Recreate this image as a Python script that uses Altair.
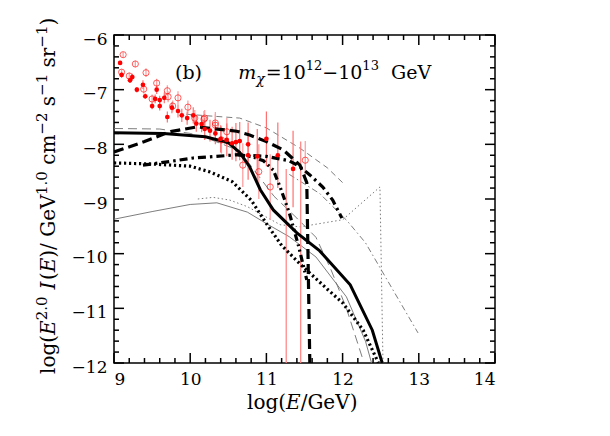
import altair as alt
import pandas as pd

# ---------------- curves (log E [GeV], log E^2 I) ----------------
solid_x = [9.0, 9.65, 10.2, 10.5, 10.65, 10.78, 10.92, 11.09, 11.4, 11.7, 12.1, 12.39, 12.52]
solid_y = [-7.79, -7.8, -7.86, -7.97, -8.15, -8.41, -8.83, -9.2, -9.62, -9.95, -10.57, -11.4, -12.0]

dashed_x = [9.0, 9.4, 9.73, 10.09, 10.61, 10.78, 11.0, 11.22, 11.44, 11.53, 11.57]
dashed_y = [-8.14, -7.95, -7.77, -7.68, -7.76, -7.83, -7.95, -8.1, -8.38, -8.7, -12.0]

dashdot_x = [9.38, 9.7, 10.04, 10.63, 11.0, 11.3, 11.44, 11.57, 11.74, 11.87, 11.99]
dashdot_y = [-8.38, -8.32, -8.25, -8.19, -8.22, -8.3, -8.41, -8.56, -8.78, -9.02, -9.35]

dashdot2_x = [10.63, 10.8, 10.96, 11.09, 11.18, 11.3, 11.42, 11.53]
dashdot2_y = [-8.19, -8.22, -8.3, -8.47, -8.78, -9.25, -9.85, -10.48]

dotted_x = [9.0, 9.5, 10.0, 10.25, 10.55, 10.8, 11.0, 11.2, 11.45, 11.8, 12.0, 12.27, 12.47]
dotted_y = [-8.34, -8.36, -8.4, -8.5, -8.68, -9.02, -9.45, -9.85, -10.2, -10.65, -10.9, -11.4, -12.0]

thin_solid_x = [9.0, 9.5, 10.0, 10.35, 10.75, 11.0, 11.3, 11.65, 12.05, 12.3, 12.38]
thin_solid_y = [-9.37, -9.23, -9.1, -9.07, -9.24, -9.45, -9.69, -10.06, -10.79, -11.6, -12.0]

thin_dot_x = [10.1, 10.3, 10.52, 10.75, 11.18, 11.44, 12.0, 12.49, 12.53]
thin_dot_y = [-9.0, -8.97, -9.02, -9.14, -9.47, -9.51, -9.38, -8.78, -12.0]

thin_ldash_x = [9.0, 9.6, 10.0, 10.3, 10.65, 10.8, 11.1, 11.4, 11.65, 11.85, 12.05, 12.27]
thin_ldash_y = [-7.71, -7.72, -7.8, -7.93, -8.12, -8.4, -8.95, -9.35, -9.7, -10.3, -11.0, -11.95]

thin_dash_x = [9.95, 10.65, 11.0, 11.44, 11.8, 12.0]
thin_dash_y = [-7.45, -7.52, -7.7, -8.07, -8.43, -8.7]

thin_dd_x = [11.3, 11.7, 12.06, 12.3, 12.99]
thin_dd_y = [-8.55, -8.9, -9.4, -9.8, -11.45]

# ---------------- data points ----------------
filled_x = [9.08, 9.10, 9.21, 9.24, 9.30, 9.38, 9.41, 9.50, 9.54, 9.56, 9.60, 9.60, 9.66, 9.70,
            9.76, 9.84, 9.89, 9.96, 10.04, 10.08, 10.15, 10.19, 10.26, 10.33, 10.40, 10.48,
            10.55, 10.60, 10.65, 10.76, 10.76, 10.88, 11.00, 11.15, 11.35]
filled_y = [-6.51, -6.73, -6.83, -6.77, -7.00, -6.91, -7.12, -7.30, -7.17, -7.00, -7.19, -7.30,
            -7.15, -7.50, -7.33, -7.39, -7.47, -7.52, -7.47, -7.62, -7.63, -7.72, -7.75, -7.80,
            -7.90, -7.92, -7.98, -7.96, -7.94, -8.00, -8.20, -8.22, -7.90, -8.20, -8.45]
filled_err = [0.04, 0.05, 0.05, 0.06, 0.05, 0.08, 0.05, 0.06, 0.08, 0.08, 0.08, 0.08, 0.1, 0.1,
              0.1, 0.12, 0.12, 0.12, 0.15, 0.15, 0.15, 0.2, 0.2, 0.2, 0.25, 0.3, 0.3, 0.35,
              0.35, 0.4, 0.45, 0.5, 0.5, 0.6, 0.7]

open_x = [9.10, 9.12, 9.20, 9.28, 9.39, 9.42, 9.50, 9.56, 9.70, 9.71, 9.77, 9.84, 9.97, 10.06,
          10.18, 10.19, 10.33, 10.33, 10.41, 10.48, 10.69, 10.90, 11.05, 11.51]
open_y = [-6.68, -6.36, -6.75, -6.53, -6.99, -6.69, -7.17, -6.88, -7.02, -7.13, -7.30, -7.15,
          -7.32, -7.52, -7.54, -7.52, -7.65, -7.61, -7.92, -7.77, -8.38, -8.5, -8.78, -8.29]
open_err = [0.05, 0.05, 0.06, 0.06, 0.08, 0.08, 0.08, 0.08, 0.1, 0.1, 0.1, 0.12, 0.12, 0.15,
            0.15, 0.15, 0.2, 0.2, 0.25, 0.25, 0.4, 0.5, 0.6, 0.35]

# long error bars reaching the bottom of the plot
long_x = [11.26, 11.45]
long_top = [-8.45, -7.95]

x_major = [9, 10, 11, 12, 13, 14]
y_major = [-12, -11, -10, -9, -8, -7, -6]

XDOM = [9, 14]
YDOM = [-12, -6]
W, H = 381, 328
FONT = "DejaVu Serif"

# approximate DejaVu Serif advance widths (em) used to lay out rich-text labels
CW = {"l": 0.32, "o": 0.602, "g": 0.64, "(": 0.39, ")": 0.39, "E": 0.73, " ": 0.318, "I": 0.47,
      "/": 0.337, "G": 0.775, "e": 0.592, "V": 0.722, "c": 0.56, "m": 0.948, "s": 0.513,
      "r": 0.478, ".": 0.318, "−": 0.838, "=": 0.838, "b": 0.64, "χ": 0.6}


def tw(s, fs):
    return sum(CW.get(ch, 0.636) for ch in s) * fs


def X(field="x"):
    return alt.X(f"{field}:Q", scale=alt.Scale(domain=XDOM, nice=False, zero=False),
                 axis=alt.Axis(values=x_major, format="d", ticks=False, domain=False, grid=False,
                               labelFont=FONT, labelFontSize=17, labelColor="black", labelPadding=8,
                               title=None))


def Y(field="y"):
    return alt.Y(f"{field}:Q", scale=alt.Scale(domain=YDOM, nice=False, zero=False),
                 axis=alt.Axis(values=y_major, format="d", ticks=False, domain=False, grid=False,
                               labelFont=FONT, labelFontSize=17, labelColor="black", labelPadding=7,
                               labelOffset=4, title=None))


def line(xs, ys, color, width, dash=None):
    df = pd.DataFrame({"x": xs, "y": ys, "o": range(len(xs))})
    kw = dict(color=color, strokeWidth=width, clip=True, strokeCap="butt", strokeJoin="miter")
    if dash:
        kw["strokeDash"] = dash
    return alt.Chart(df).mark_line(**kw).encode(x=X(), y=Y(), order="o:Q")


GRAY = "#6e6e6e"
layers = []

# thin lines
layers.append(line(thin_solid_x, thin_solid_y, GRAY, 0.9))
layers.append(line(thin_dot_x, thin_dot_y, GRAY, 0.9, [1.5, 2.5]))
layers.append(line(thin_ldash_x, thin_ldash_y, GRAY, 0.9, [9, 5]))
layers.append(line(thin_dash_x, thin_dash_y, GRAY, 0.9, [6, 4]))
layers.append(line(thin_dd_x, thin_dd_y, GRAY, 0.9, [6, 3, 1.5, 3]))

# error bars
fdf = pd.DataFrame({"x": filled_x, "y": filled_y, "e": filled_err})
fdf["lo"] = fdf["y"] - fdf["e"]
fdf["hi"] = fdf["y"] + fdf["e"]
odf = pd.DataFrame({"x": open_x, "y": open_y, "e": open_err})
odf["lo"] = odf["y"] - odf["e"]
odf["hi"] = odf["y"] + odf["e"]
ldf = pd.DataFrame({"x": long_x, "hi": long_top, "lo": [YDOM[0]] * len(long_x)})

layers.append(alt.Chart(odf).mark_rule(color="#ffa0a0", strokeWidth=1.3, clip=True)
              .encode(x=X(), y=Y("lo"), y2="hi:Q"))
layers.append(alt.Chart(fdf).mark_rule(color="#ff7070", strokeWidth=1.2, clip=True)
              .encode(x=X(), y=Y("lo"), y2="hi:Q"))
layers.append(alt.Chart(ldf).mark_rule(color="#ff8080", strokeWidth=1.2, clip=True)
              .encode(x=X(), y=Y("lo"), y2="hi:Q"))

# thick lines
layers.append(line(dotted_x, dotted_y, "black", 3.2, [2.2, 2.8]))
layers.append(line(dashdot2_x, dashdot2_y, "black", 3.2, [7, 3.5, 2, 3.5, 2, 3.5]))
layers.append(line(dashdot_x, dashdot_y, "black", 3.2, [8, 4, 2.5, 4]))
layers.append(line(dashed_x, dashed_y, "black", 3.2, [10, 5]))
layers.append(line(solid_x, solid_y, "black", 3.0))

# points
layers.append(alt.Chart(odf).mark_point(shape="circle", filled=False, color="red", size=38,
                                        strokeWidth=0.9, clip=True).encode(x=X(), y=Y()))
layers.append(alt.Chart(fdf).mark_point(shape="circle", filled=True, color="red", size=22,
                                        opacity=1, clip=True).encode(x=X(), y=Y()))

# inward ticks on all four sides
dxM, dxm = 10 / W * (XDOM[1] - XDOM[0]), 5 / W * (XDOM[1] - XDOM[0])
dyM, dym = 10 / H * (YDOM[1] - YDOM[0]), 5 / H * (YDOM[1] - YDOM[0])
rows = []
for i in range(int((XDOM[1] - XDOM[0]) / 0.2) + 1):
    v = round(XDOM[0] + 0.2 * i, 4)
    L = dyM if abs(v - round(v)) < 1e-6 else dym
    rows.append({"x": v, "x2": v, "y": YDOM[0], "y2": YDOM[0] + L})
    rows.append({"x": v, "x2": v, "y": YDOM[1], "y2": YDOM[1] - L})
for i in range(int((YDOM[1] - YDOM[0]) / 0.2) + 1):
    v = round(YDOM[0] + 0.2 * i, 4)
    L = dxM if abs(v - round(v)) < 1e-6 else dxm
    rows.append({"x": XDOM[0], "x2": XDOM[0] + L, "y": v, "y2": v})
    rows.append({"x": XDOM[1], "x2": XDOM[1] - L, "y": v, "y2": v})
tdf = pd.DataFrame(rows)
layers.append(alt.Chart(tdf).mark_rule(color="black", strokeWidth=1.5)
              .encode(x=X(), x2="x2:Q", y=Y(), y2="y2:Q"))

one = pd.DataFrame({"k": [0]})


def rich(pieces, x0, y0, angle=0):
    """pieces: (text, fontsize, baseline shift, style, extra gap after); laid out along the text.
    Leading/trailing spaces are turned into offsets (SVG collapses them)."""
    out, off = [], 0.0
    for txt, fs, shift, st, gap in pieces:
        core = txt.strip(" ")
        lead = len(txt) - len(txt.lstrip(" "))
        trail = len(txt) - len(txt.rstrip(" "))
        off += lead * CW[" "] * fs
        if core:
            kw = dict(text=core, dx=off, dy=shift, align="left", baseline="alphabetic", font=FONT,
                      fontSize=fs, fontStyle=st, color="black")
            if angle:
                kw["angle"] = angle
            out.append(alt.Chart(one).mark_text(**kw).encode(x=alt.value(x0), y=alt.value(y0)))
        off += tw(core, fs) + trail * CW[" "] * fs + gap
    return out


# panel label "(b) m_chi = 10^12 - 10^13 GeV"
ann = [("(b)", 19, 0, "normal", 0), ("   ", 19, 0, "normal", 0), ("m", 19, 0, "italic", 0),
       ("χ", 14, 5, "italic", 1), ("=10", 19, 0, "normal", 0), ("12", 13, -9, "normal", 0),
       ("−10", 19, 0, "normal", 0), ("13", 13, -9, "normal", 0), ("  GeV", 19, 0, "normal", 0)]
layers += rich(ann, 175 - 114, 79 - 35)

# x title "log(E/GeV)"
xt = [("log(", 20, 0, "normal", 0), ("E", 20, 0, "italic", 0), ("/GeV)", 20, 0, "normal", 0)]
layers += rich(xt, 247 - 114, 409 - 35)

# y title "log(E^2.0 I(E)/ GeV^1.0 cm^-2 s^-1 sr^-1)"
MS, SS, UP = 20, 15, -8
yt = [("log(", MS, 0, "normal", 0), ("E", MS, 0, "italic", 0), ("2.0", SS, UP, "normal", 7),
      ("I", MS, 0, "italic", 0), ("(", MS, 0, "normal", 0),
      ("E", MS, 0, "italic", 0), (")/ GeV", MS, 0, "normal", 0), ("1.0", SS, UP, "normal", 0),
      (" cm", MS, 0, "normal", 0), ("−2", SS, UP, "normal", 0), (" s", MS, 0, "normal", 0),
      ("−1", SS, UP, "normal", 0), (" sr", MS, 0, "normal", 0), ("−1", SS, UP, "normal", 0),
      (")", MS, 0, "normal", 0)]
layers += rich(yt, 55 - 114, 374 - 35, angle=270)

chart = alt.layer(*layers).properties(
    width=W, height=H, autosize="none",
    padding={"left": 106, "top": 27, "right": 107, "bottom": 65},
).configure_view(stroke="black", strokeWidth=1.5)

chart.save("out.html", embed_options={"renderer": "svg", "actions": False})
